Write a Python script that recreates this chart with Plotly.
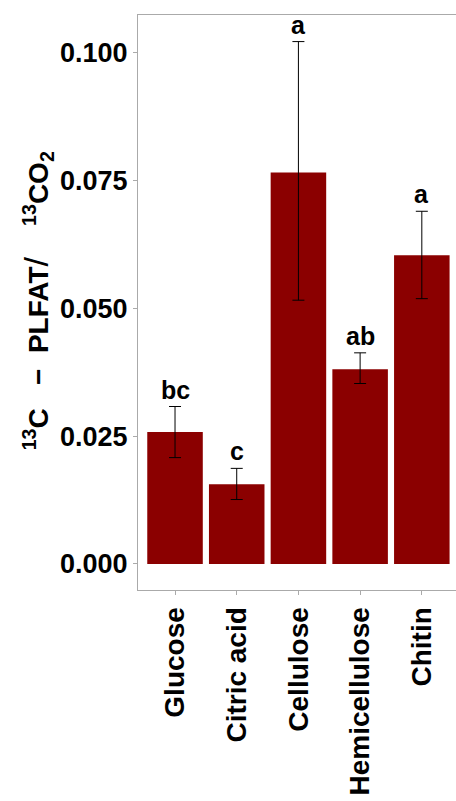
import plotly.graph_objects as go

categories = ["Glucose", "Citric acid", "Cellulose", "Hemicellulose", "Chitin"]
means = [0.0258, 0.0156, 0.0766, 0.0381, 0.0604]
err_upper = [0.0308, 0.0187, 0.1022, 0.0413, 0.0690]
err_lower = [0.0208, 0.0126, 0.0516, 0.0353, 0.0519]
letters = ["bc", "c", "a", "ab", "a"]
ytick_vals = [0.0, 0.025, 0.05, 0.075, 0.1]
ytick_text = ["0.000", "0.025", "0.050", "0.075", "0.100"]

FONT = "Liberation Sans, Arial, sans-serif"
W, H = 456, 801
ml, mt, mb, mr = 138, 15, 211, 0

plus = [u - m for u, m in zip(err_upper, means)]
minus = [m - l for m, l in zip(means, err_lower)]

fig = go.Figure()
fig.add_trace(go.Bar(
    x=list(range(len(categories))), y=means, width=0.9,
    marker=dict(color="#8B0000", line=dict(width=0)),
    error_y=dict(type="data", symmetric=False, array=plus, arrayminus=minus,
                 color="black", thickness=1, width=6),
    showlegend=False, hoverinfo="skip",
))

for i, (lab, top) in enumerate(zip(letters, err_upper)):
    fig.add_annotation(x=i, y=top, text=f"<b>{lab}</b>", showarrow=False,
                       yanchor="bottom", yshift=1,
                       font=dict(family=FONT, size=25, color="black"))

plot_w = W - ml - mr
fig.add_annotation(
    xref="paper", yref="paper", x=(37 - ml) / plot_w, y=0.502,
    text=("<b><sup>13</sup>C   −  PLFAT</b>"
          "<span style='font-weight:normal;font-size:34px'>/</span>"
          "<b>    <sup>13</sup>CO<sub>2</sub></b>"),
    textangle=-90, showarrow=False, xanchor="center", yanchor="middle",
    font=dict(family=FONT, size=28, color="black"))

fig.update_layout(
    width=W, height=H, margin=dict(l=ml, r=mr, t=mt, b=mb, pad=0),
    plot_bgcolor="white", paper_bgcolor="white", bargap=0.1,
    font=dict(family=FONT, color="black"),
)
fig.update_xaxes(
    range=[-0.6, -0.6 + plot_w / 61.7],
    tickvals=list(range(len(categories))),
    ticktext=[f"<b>{c}</b>" for c in categories],
    tickangle=-90, tickfont=dict(family=FONT, size=28, color="black"),
    ticklabelstandoff=1,
    showline=True, linecolor="#aaaaaa", linewidth=1, mirror=True,
    ticks="outside", ticklen=4, tickcolor="#aaaaaa", showgrid=False, zeroline=False,
    automargin=False,
)
fig.update_yaxes(
    range=[-0.0051, 0.1074], tickvals=ytick_vals,
    ticktext=[f"<b>{t}</b>" for t in ytick_text],
    tickfont=dict(family=FONT, size=27, color="black"),
    showline=True, linecolor="#aaaaaa", linewidth=1, mirror=False,
    ticks="outside", ticklen=4, tickcolor="#aaaaaa", showgrid=False, zeroline=False,
    automargin=False,
)
fig.write_html(
    "out.html",
    config={"displayModeBar": False},
    post_script="document.body.style.margin='0';document.documentElement.style.overflow='hidden';document.body.style.overflow='hidden';",
)
